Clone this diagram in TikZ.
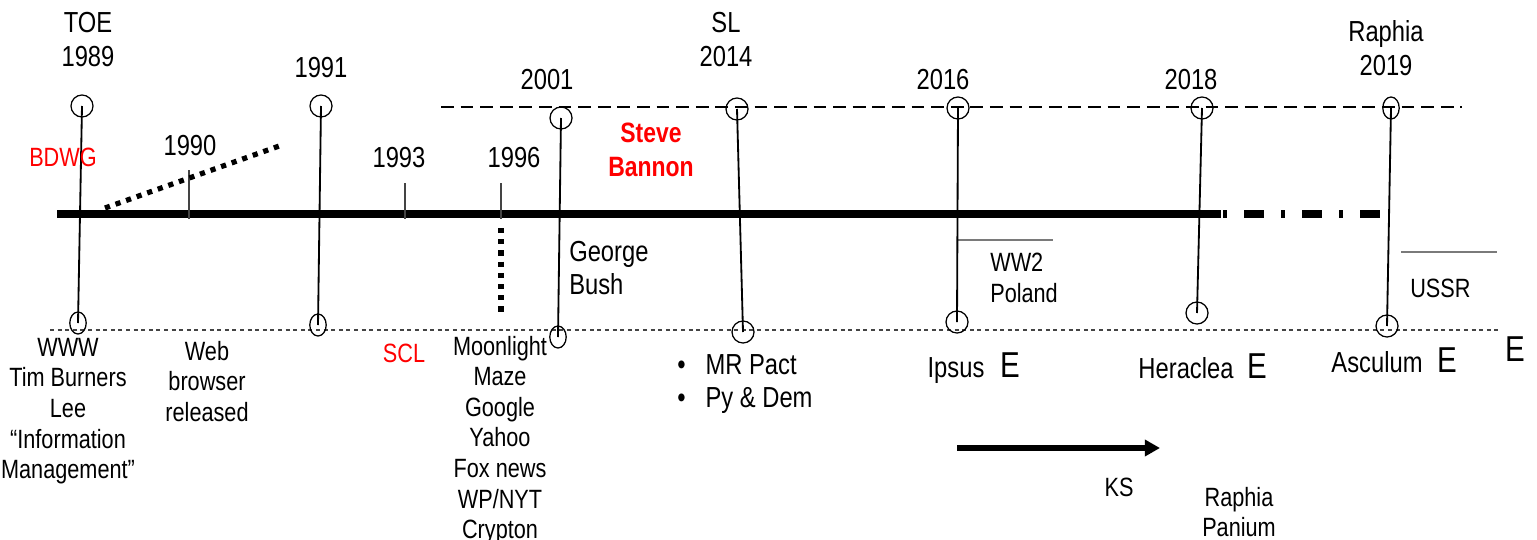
\documentclass[tikz,border=0pt]{standalone}
\usepackage{fontspec}
\setmainfont{Liberation Sans}[FakeStretch=0.82]
\usepackage{xcolor}
\definecolor{InkBlack}{HTML}{000000}
\definecolor{AlertRed}{HTML}{FF0000}
\definecolor{TickGray}{HTML}{444444}
\definecolor{RuleGray}{HTML}{7A7A7A}
\usepackage{tikz}
\usetikzlibrary{positioning,arrows.meta,shapes.geometric}
\tikzset{
  txt/.style={font=\fontsize{18.8}{21.7}\selectfont,text=InkBlack,align=center,inner sep=0pt},
  yr/.style={txt,font=\fontsize{20.6}{24.2}\selectfont},
  big/.style={txt,font=\fontsize{20.6}{23.5}\selectfont},
  note/.style={txt,align=left},
  hot/.style={txt,text=AlertRed},
  hotb/.style={txt,text=AlertRed,font=\bfseries\fontsize{19.9}{24.2}\selectfont},
  bigE/.style={txt,font=\fontsize{25.6}{28}\selectfont},
  ring/.style={draw=InkBlack,circle,minimum size=0.55cm,inner sep=0pt,line width=0.9pt},
  oval/.style={draw=InkBlack,ellipse,minimum width=0.41cm,minimum height=0.55cm,
    inner sep=0pt,line width=0.9pt},
  stem/.style={draw=InkBlack,line width=1.3pt},
  tick/.style={draw=TickGray,line width=1pt},
  rule/.style={draw=RuleGray,line width=0.8pt},
  dots/.style={draw=InkBlack,line width=0.13cm,dash pattern=on 0.13cm off 0.15cm},
  push/.style={-{Triangle[length=0.38cm,width=0.4cm]},draw=InkBlack,line width=0.15cm},
}

\begin{document}
\begin{tikzpicture}[x=0.025cm,y=-0.025cm]
\useasboundingbox (0,0) rectangle (1537,539);

% guide lines
\draw[draw=InkBlack,line width=1pt,dash pattern=on 0.32cm off 0.17cm] (441,107) -- (1462,107);
\draw[draw=TickGray,line width=1.1pt,dash pattern=on 0.1cm off 0.09cm] (50,330) -- (1500,330);

% axis
\draw[draw=InkBlack,line width=0.2cm] (57,214) -- (1221,214);
\draw[draw=InkBlack,line width=0.2cm,dash pattern=on 0.1cm off 0.425cm on 0.5cm off 0.425cm]
  (1223,214) -- (1382,214);
\foreach \x/\y in {189/170, 405/183, 501/183}{
  \draw[tick] (\x,\y) -- (\x,219);}
\draw[dots] (105,208) -- (282,145);
\draw[dots] (501,228) -- (501,317);
\draw[rule] (957,240) -- (1053,240);
\draw[rule] (1401,252) -- (1497,252);

% event rings
\node[ring] (t89) at (82,106) {};
\node[ring] (t91) at (321,106) {};
\node[ring] (t01) at (561,118) {};
\node[ring] (t14) at (737,109) {};
\node[ring] (t16) at (958,108) {};
\node[ring] (t18) at (1202,108) {};
\node[oval] (t19) at (1391,108) {};
\node[oval] (b89) at (78,323) {};
\node[oval] (b91) at (318,325) {};
\node[oval] (b01) at (558,337) {};
\node[ring] (b14) at (743,332) {};
\node[ring] (b16) at (957,322) {};
\node[ring] (b18) at (1197,313) {};
\node[ring] (b19) at (1387,326) {};
\foreach \n in {89,91,01,14,16,18,19}{
  \draw[stem] (t\n.center) -- (b\n.center);}

% years above
\node[yr] (lToe) at (88,40) {TOE\\1989};
\node[yr] (l91) at (321,68) {1991};
\node[yr] (l90) at (190,146) {1990};
\node[yr] (l93) at (399,158) {1993};
\node[yr] (l96) at (514,158) {1996};
\node[yr] (l01) at (547,80) {2001};
\node[yr] (lSl) at (726,40) {SL\\2014};
\node[yr] (l16) at (943,80) {2016};
\node[yr] (l18) at (1191,80) {2018};
\node[yr] (lRa) at (1386,48) {Raphia\\2019};
\node[hot] (bdwg) at (63,157) {BDWG};
\node[hotb] (bannon) at (651,150) {Steve\\Bannon};

% side notes
\node[big,align=left,anchor=west] (bush) at (569,268) {George\\Bush};
\node[note,anchor=west] (ww2) at (990,278) {WW2\\Poland};
\node[note,anchor=west] (ussr) at (1410,288) {USSR};

% events below
\node[txt,anchor=north] (www) at (68,338) {WWW\\Tim Burners\\Lee\\``Information\\Management''};
\node[txt,anchor=north] (web) at (207,341) {Web\\browser\\released};
\node[hot] (scl) at (404,353) {SCL};
\node[txt,anchor=north] (moon) at (500,336) {Moonlight\\Maze\\Google\\Yahoo\\Fox news\\WP/NYT\\Crypton};
\node[big,align=left,anchor=west] (pact) at (677,384)
  {\textbullet\hspace{0.5cm}MR Pact\\\textbullet\hspace{0.5cm}Py \& Dem};
\node[big,anchor=base] (ipsus) at (956,377) {Ipsus};
\node[bigE,anchor=base] (eIp) at (1010,377) {E};
\node[big,anchor=base] (hera) at (1186,378) {Heraclea};
\node[bigE,anchor=base] (eHe) at (1257,378) {E};
\node[big,anchor=base] (ascu) at (1377,372) {Asculum};
\node[bigE,anchor=base] (eAs) at (1447,372) {E};
\node[bigE,anchor=base] (eEnd) at (1515,361) {E};

% KS arrow
\coordinate (ksA) at (957,448);
\coordinate (ksB) at (1160,448);
\draw[push] (ksA) -- (ksB);
\node[txt] (ks) at (1119,487) {KS};
\node[txt] (panium) at (1239,512) {Raphia\\Panium};
\end{tikzpicture}
\end{document}
